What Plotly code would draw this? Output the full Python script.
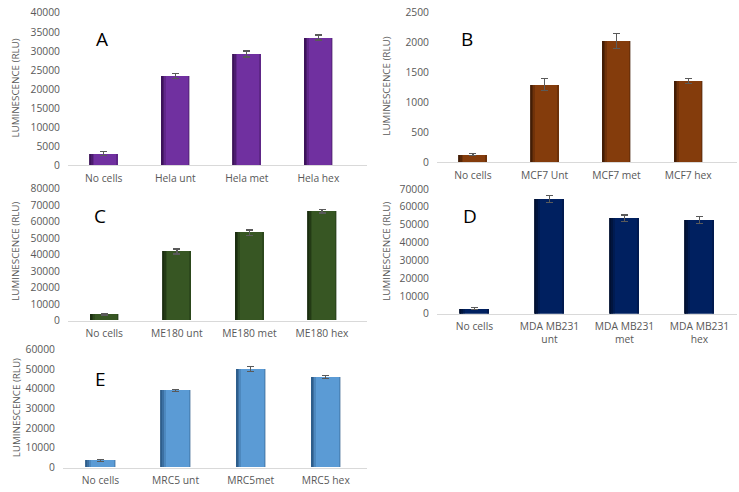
import plotly.graph_objects as go

W, H = 739, 492

# ---- data ----
cats_a = ["No cells", "Hela unt", "Hela met", "Hela hex"]
vals_a = [3100, 23400, 29200, 33500]
err_a = [500, 700, 800, 650]

cats_b = ["No cells", "MCF7 Unt", "MCF7 met", "MCF7 hex"]
vals_b = [135, 1300, 2030, 1360]
err_b = [15, 100, 130, 40]

cats_c = ["No cells", "ME180 unt", "ME180 met", "ME180 hex"]
vals_c = [3500, 41800, 53100, 66100]
err_c = [500, 1500, 1700, 1000]

cats_d = ["No cells", "MDA MB231<br>unt", "MDA MB231<br>met", "MDA MB231<br>hex"]
vals_d = [2800, 64400, 53600, 52700]
err_d = [600, 2000, 1800, 2000]

cats_e = ["No cells", "MRC5 unt", "MRC5met", "MRC5 hex"]
vals_e = [3600, 39000, 49900, 46000]
err_e = [500, 500, 1300, 800]

panels = [
    # cats, vals, err, color, dark, x0px, x1px, y(0) px, y(top) px, ymax, dtick, range_end, title x px, title center y
    (cats_a, vals_a, err_a, "#7030A0", "#3d1459", 68, 367, 163, 6, 40000, 5000, 3.68, 16, 84),
    (cats_b, vals_b, err_b, "#843C0C", "#431d05", 437, 737, 160, 6, 2500, 500, 3.68, 387, 82),
    (cats_c, vals_c, err_c, "#375623", "#1b2d10", 68, 367, 322.7, 186.7, 80000, 10000, 3.62, 16, 252),
    (cats_d, vals_d, err_d, "#002060", "#000f30", 437, 737, 315.7, 187.3, 70000, 10000, 3.5, 387, 252),
    (cats_e, vals_e, err_e, "#5B9BD5", "#2d5d8a", 63, 367, 474, 352.3, 60000, 10000, 3.55, 16, 413),
]

FONT = "Open Sans, DejaVu Sans, sans-serif"
fig = go.Figure()
BW = 0.39
tick_font = dict(family=FONT, size=10.3, color="#595959")

for i, (cats, vals, err, col, dark, x0, x1, yb, yt, ymax, dt, rend, tx, ty) in enumerate(panels):
    n = "" if i == 0 else str(i + 1)
    xa, ya = "x" + n, "y" + n
    fig.add_trace(go.Bar(
        x=cats, y=vals, xaxis=xa, yaxis=ya, marker=dict(color=col, line=dict(width=0)),
        width=BW, offset=-BW / 2,
        error_y=dict(type="data", array=err, color="#5a5a5a", thickness=1.3, width=3.5),
        showlegend=False))
    # darker shading on the left side of each bar
    for frac, op in [(0.05, 0.9), (0.10, 0.55), (0.16, 0.3)]:
        fig.add_trace(go.Bar(
            x=cats, y=vals, xaxis=xa, yaxis=ya,
            marker=dict(color=dark, opacity=op, line=dict(width=0)),
            width=BW * frac, offset=-BW / 2, showlegend=False, hoverinfo="skip"))
    # right edge slight shade
    fig.add_trace(go.Bar(
        x=cats, y=vals, xaxis=xa, yaxis=ya,
        marker=dict(color=dark, opacity=0.35, line=dict(width=0)),
        width=BW * 0.04, offset=BW / 2 - BW * 0.04, showlegend=False, hoverinfo="skip"))

    xk = "xaxis" + n
    yk = "yaxis" + n
    fig.layout[xk] = dict(domain=[x0 / W, x1 / W], anchor=ya, type="category",
                          range=[-0.5, rend], showline=True, linecolor="#d9d9d9",
                          linewidth=1, showgrid=False, ticks="", tickfont=tick_font,
                          ticklabelstandoff=3, ticklabeloverflow="allow", fixedrange=True)
    fig.layout[yk] = dict(domain=[(H - yb) / H, (H - yt) / H], anchor=xa,
                          range=[0, ymax], dtick=dt, showgrid=False, showline=False,
                          zeroline=False, ticks="", tickfont=tick_font, tickformat="d",
                          ticklabelstandoff=7, fixedrange=True)
    fig.add_annotation(text="LUMINESCENCE (RLU)", textangle=-90, x=tx / W, y=(H - ty) / H,
                       xref="paper", yref="paper", xanchor="center", yanchor="middle",
                       showarrow=False,
                       font=dict(family=FONT, size=9.8, color="#595959"))

letters = [("A", 102, 33), ("B", 467, 33), ("C", 100, 215), ("D", 470, 215), ("E", 100, 383)]
for t, lx, ly in letters:
    fig.add_annotation(text=t, x=lx / W, y=(H - ly) / H, xref="paper", yref="paper",
                       xanchor="center", yanchor="middle", showarrow=False,
                       font=dict(family=FONT, size=19, color="#000000"))

fig.update_layout(width=W, height=H, margin=dict(l=0, r=0, t=0, b=0),
                  barmode="overlay", bargap=0, plot_bgcolor="white", paper_bgcolor="white")

fig.write_html("out.html", config={"displayModeBar": False},
               post_script="document.body.style.margin='0';document.body.style.overflow='hidden';")
